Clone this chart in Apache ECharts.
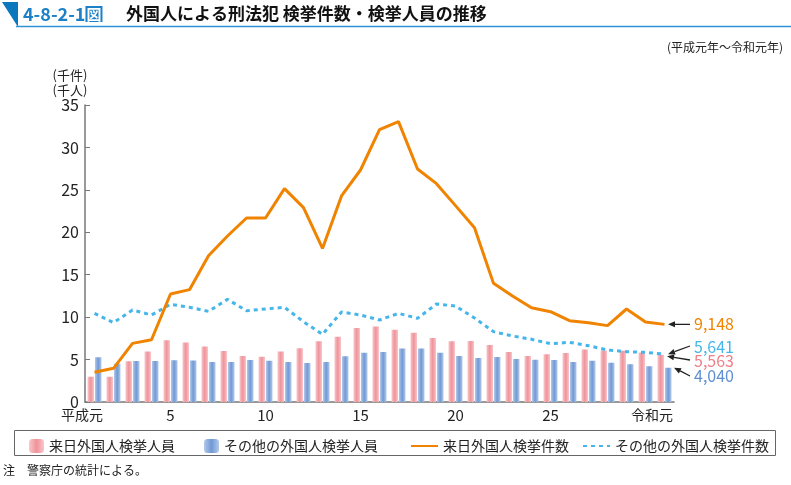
<!DOCTYPE html>
<html><head><meta charset="utf-8">
<script src="https://cdn.jsdelivr.net/npm/echarts@6/dist/echarts.min.js"></script>
<style>html,body{margin:0;padding:0;background:#fff}#c{width:791px;height:485px}</style>
</head><body><div id="c"></div>
<script>
// ---- data (千件 / 千人) ----
const categories = ['平成元','2','3','4','5','6','7','8','9','10','11','12','13','14','15','16','17','18','19','20','21','22','23','24','25','26','27','28','29','30','令和元'];
const shownLabels = ['平成元','5','10','15','20','25','令和元'];
const rainichiPersons = [2.99,2.98,4.81,5.96,7.28,7.0,6.53,6.0,5.43,5.34,5.96,6.33,7.17,7.69,8.73,8.9,8.5,8.15,7.53,7.15,7.19,6.71,5.89,5.42,5.62,5.78,6.18,6.06,6.05,5.84,5.563];
const otherPersons = [5.27,4.5,4.83,4.83,4.91,4.9,4.72,4.72,4.95,4.87,4.72,4.6,4.72,5.38,5.81,5.89,6.29,6.29,5.81,5.42,5.19,5.3,5.07,4.99,4.95,4.72,4.87,4.64,4.44,4.21,4.04];
const rainichiCases = [3.5,3.97,6.91,7.34,12.73,13.24,17.24,19.56,21.68,21.68,25.14,22.9,18.1,24.28,27.34,32.09,33.04,27.46,25.73,23.14,20.54,13.98,12.49,11.1,10.64,9.58,9.35,9.0,10.96,9.43,9.148];
const otherCases = [10.45,9.35,10.84,10.25,11.51,11.16,10.68,12.1,10.76,10.96,11.16,9.46,7.97,10.6,10.25,9.66,10.45,9.86,11.55,11.31,9.9,8.29,7.78,7.39,6.87,7.03,6.64,6.13,5.93,5.85,5.641];
const seriesNames = ['来日外国人検挙人員','その他の外国人検挙人員','来日外国人検挙件数','その他の外国人検挙件数'];
const endLabels = ['9,148','5,641','5,563','4,040'];
const yTicks = {min:0, max:35, interval:5};

const FONT = "'Noto Sans CJK JP','Noto Sans',sans-serif";
const C_ORANGE = '#f08300', C_LBLUE = '#46b6ea', C_PINK = '#ef7f88', C_BLUE = '#5e8fd2';
const grad = (edge, mid) => new echarts.graphic.LinearGradient(0,0,1,0,[{offset:0,color:edge},{offset:0.5,color:mid},{offset:1,color:edge}]);

const chart = echarts.init(document.getElementById('c'), null, {renderer:'canvas'});
const n = categories.length-1;
const showIdx = i => shownLabels.indexOf(categories[i]) >= 0;

const legendText = {fontSize:14,color:'#222',fontFamily:FONT};
const option = {
  animation:false,
  textStyle:{fontFamily:FONT},
  grid:{left:85, right:117, top:105, bottom:83},
  xAxis:{
    type:'category', data:categories, boundaryGap:true,
    axisLine:{lineStyle:{color:'#777', width:1.5}},
    axisTick:{show:false},
    axisLabel:{
      interval:(i)=>showIdx(i), hideOverlap:false, margin:6, color:'#222', fontSize:15, fontFamily:FONT,
      formatter:(v,i)=> (i===0||i===n) ? '{s|'+v+'}' : v,
      rich:{s:{padding:[0,25,0,0], fontSize:14, color:'#222', fontFamily:FONT}}
    }
  },
  yAxis:{
    type:'value', min:yTicks.min, max:yTicks.max, interval:yTicks.interval,
    axisLine:{show:true, lineStyle:{color:'#777', width:1.5}},
    axisTick:{show:true, inside:true, length:5, lineStyle:{color:'#777'}},
    splitLine:{show:false},
    axisLabel:{margin:6, color:'#222', fontSize:16, fontFamily:FONT}
  },
  legend:[
    {data:[seriesNames[0]], left:24, top:434, itemWidth:15, itemHeight:14, itemGap:5, textStyle:legendText},
    {data:[seriesNames[1]], left:199, top:434, itemWidth:15, itemHeight:14, itemGap:5, textStyle:legendText},
    {data:[seriesNames[2]], left:405, top:434, itemWidth:27, itemHeight:14, itemGap:5, textStyle:legendText, itemStyle:{opacity:0}},
    {data:[seriesNames[3]], left:577, top:434, itemWidth:27, itemHeight:14, itemGap:5, textStyle:legendText, itemStyle:{opacity:0}}
  ],
  series:[
    {name:seriesNames[0], type:'bar', data:rainichiPersons, barWidth:6.5, barGap:'15%',
     itemStyle:{color:grad('#f8c6ca','#ef939a')}},
    {name:seriesNames[1], type:'bar', data:otherPersons, barWidth:6.5, barGap:'15%',
     itemStyle:{color:grad('#b2c9ea','#7199d4')}},
    {name:seriesNames[2], type:'line', data:rainichiCases, symbol:'none', z:5,
     lineStyle:{color:C_ORANGE, width:3}, itemStyle:{color:C_ORANGE}},
    {name:seriesNames[3], type:'line', data:otherCases, symbol:'none', z:4,
     lineStyle:{color:C_LBLUE, width:3, type:[4,4]}, itemStyle:{color:C_LBLUE}}
  ]
};
chart.setOption(option);

// ---- static decorations ----
const g = [];
g.push({type:'polygon', shape:{points:[[2,2],[18,2],[18,27]]}, style:{fill:'#0b78be'}});
g.push({type:'line', shape:{x1:16,y1:26.5,x2:791,y2:26.5}, style:{stroke:'#2f93d6', lineWidth:1.5}});
g.push({type:'text', x:23, y:14, style:{text:'{a|4-8-2-1}{b|図}', verticalAlign:'middle',
  rich:{a:{fontSize:18,fontWeight:'bold',fill:'#1b80c6',fontFamily:FONT},
        b:{fontSize:15,fontWeight:'bold',fill:'#fff',backgroundColor:'#1b80c6',padding:[1,1,0,1],fontFamily:FONT}}}});
g.push({type:'text', x:126, y:14, style:{text:'外国人による刑法犯 検挙件数・検挙人員の推移', fontSize:17, fontWeight:'bold', fill:'#111', fontFamily:FONT, verticalAlign:'middle'}});
g.push({type:'text', x:783, y:47, style:{text:'(平成元年～令和元年)', fontSize:12, fill:'#222', fontFamily:FONT, align:'right', verticalAlign:'middle'}});
g.push({type:'text', x:70, y:75, style:{text:'(千件)', fontSize:13, fill:'#222', fontFamily:FONT, align:'center', verticalAlign:'middle'}});
g.push({type:'text', x:70, y:90, style:{text:'(千人)', fontSize:13, fill:'#222', fontFamily:FONT, align:'center', verticalAlign:'middle'}});
g.push({type:'rect', shape:{x:14.5,y:430.5,width:761,height:25}, style:{fill:'none', stroke:'#666', lineWidth:1}});
g.push({type:'text', x:3, y:470, style:{text:'注　警察庁の統計による。', fontSize:12, fill:'#222', fontFamily:FONT, verticalAlign:'middle'}});

// ---- end annotations anchored to data ----
const px = (v) => chart.convertToPixel({gridIndex:0}, [n, v]);
const pO = px(rainichiCases[n]), pL = px(otherCases[n]), pP = px(rainichiPersons[n]), pB = px(otherPersons[n]);
function arrow(x1,y1,x2,y2){
  const dx=x2-x1, dy=y2-y1, L=Math.sqrt(dx*dx+dy*dy), ux=dx/L, uy=dy/L;
  const hl=7, hw=3;
  const bx=x2-ux*hl, by=y2-uy*hl;
  g.push({type:'line', z:20, shape:{x1:x1,y1:y1,x2:bx,y2:by}, style:{stroke:'#222', lineWidth:1.3}});
  g.push({type:'polygon', z:20, shape:{points:[[x2,y2],[bx-uy*hw,by+ux*hw],[bx+uy*hw,by-ux*hw]]}, style:{fill:'#222'}});
}
arrow(690, pO[1], pO[0]+3.5, pO[1]);
arrow(690, 346, pL[0]+3.5, pL[1]);
arrow(690, 360, pP[0]+2.5, pP[1]+1.5);
arrow(690, 376, pB[0]+9.5, pB[1]);
const lab = (t, y, c) => g.push({type:'text', z:20, x:694, y:y, style:{text:t, fontSize:16, fill:c, fontFamily:FONT, verticalAlign:'middle'}});
lab(endLabels[0], pO[1], C_ORANGE);
lab(endLabels[1], 347, C_LBLUE);
lab(endLabels[2], 361, C_PINK);
lab(endLabels[3], 376, C_BLUE);

chart.setOption({graphic:g});
</script></body></html>
